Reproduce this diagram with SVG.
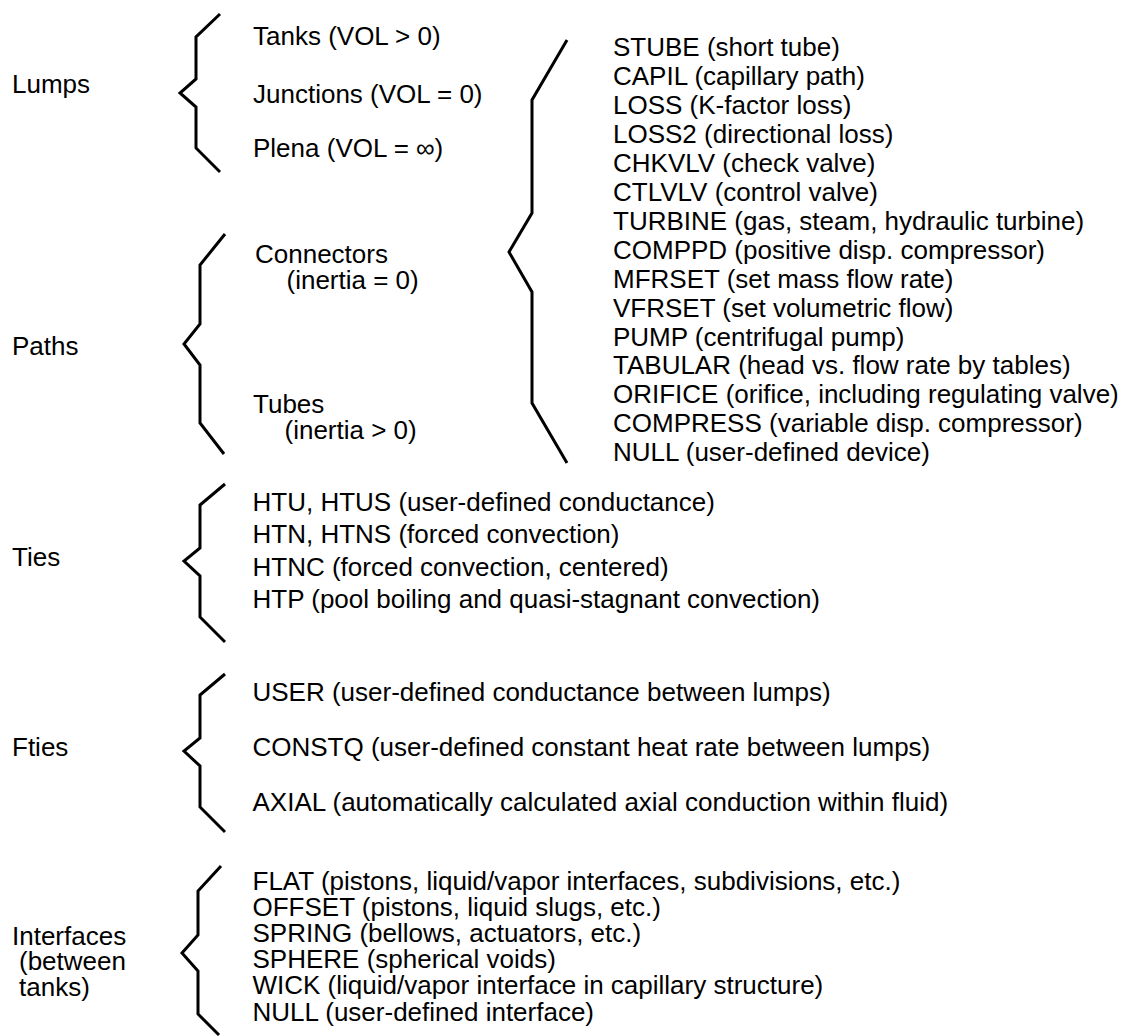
<svg xmlns="http://www.w3.org/2000/svg" width="1133" height="1036" viewBox="0 0 1133 1036">
<style>
text{font-family:"Liberation Sans",Arial,Helvetica,sans-serif;font-size:26px;fill:#000}
.brace{fill:none;stroke:#000;stroke-width:3;stroke-linejoin:miter;stroke-linecap:butt}
</style>
<rect width="1133" height="1036" fill="#fff"/>
<g id="connectors">
<polyline class="brace" points="220,14 196,37 196,79 180,93 196,107 196,148 220,172"/>
<polyline class="brace" points="225,234 200,265 200,324 184,344 200,365 200,423 224,454"/>
<polyline class="brace" points="567,40 532,100 532,213 509,252 532,292 532,403 567,463"/>
<polyline class="brace" points="225,484 200,505 200,548 184,561 200,576 200,617 225,642"/>
<polyline class="brace" points="225,674 200,695 200,738 184,751 200,766 200,807 225,832"/>
<polyline class="brace" points="221,866 198,891 198,935 182,953 198,971 198,1014 219,1035"/>
</g>
<g id="lumps"><text x="12" y="93">Lumps</text></g>
<g id="lump-types">
<text x="253" y="45">Tanks (VOL &gt; 0)</text>
<text x="253" y="102.5">Junctions (VOL = 0)</text>
<text x="253" y="157">Plena (VOL = ∞)</text>
</g>
<g id="paths"><text x="12" y="355">Paths</text></g>
<g id="connectors-node">
<text x="255" y="263">Connectors</text>
<text x="286.5" y="289">(inertia = 0)</text>
</g>
<g id="tubes">
<text x="253" y="413">Tubes</text>
<text x="284.5" y="439">(inertia &gt; 0)</text>
</g>
<g id="connector-types">
<text x="613" y="56">STUBE (short tube)</text>
<text x="613" y="85">CAPIL (capillary path)</text>
<text x="613" y="114">LOSS (K-factor loss)</text>
<text x="613" y="143">LOSS2 (directional loss)</text>
<text x="613" y="172">CHKVLV (check valve)</text>
<text x="613" y="201">CTLVLV (control valve)</text>
<text x="613" y="230">TURBINE (gas, steam, hydraulic turbine)</text>
<text x="613" y="259">COMPPD (positive disp. compressor)</text>
<text x="613" y="288">MFRSET (set mass flow rate)</text>
<text x="613" y="317">VFRSET (set volumetric flow)</text>
<text x="613" y="345.5">PUMP (centrifugal pump)</text>
<text x="613" y="374">TABULAR (head vs. flow rate by tables)</text>
<text x="613" y="403">ORIFICE (orifice, including regulating valve)</text>
<text x="613" y="432">COMPRESS (variable disp. compressor)</text>
<text x="613" y="461">NULL (user-defined device)</text>
</g>
<g id="ties"><text x="12" y="566">Ties</text></g>
<g id="tie-types">
<text x="252.5" y="511">HTU, HTUS (user-defined conductance)</text>
<text x="252.5" y="543">HTN, HTNS (forced convection)</text>
<text x="252.5" y="576">HTNC (forced convection, centered)</text>
<text x="252.5" y="608">HTP (pool boiling and quasi-stagnant convection)</text>
</g>
<g id="fties"><text x="12" y="756">Fties</text></g>
<g id="ftie-types">
<text x="252.5" y="701">USER (user-defined conductance between lumps)</text>
<text x="252.5" y="756">CONSTQ (user-defined constant heat rate between lumps)</text>
<text x="252.5" y="811">AXIAL (automatically calculated axial conduction within fluid)</text>
</g>
<g id="interfaces">
<text x="12" y="945">Interfaces</text>
<text x="19" y="970">(between</text>
<text x="19" y="996">tanks)</text>
</g>
<g id="interface-types">
<text x="252.5" y="889.5">FLAT (pistons, liquid/vapor interfaces, subdivisions, etc.)</text>
<text x="252.5" y="915.7">OFFSET (pistons, liquid slugs, etc.)</text>
<text x="252.5" y="941.9">SPRING (bellows, actuators, etc.)</text>
<text x="252.5" y="968.1">SPHERE (spherical voids)</text>
<text x="252.5" y="994.3">WICK (liquid/vapor interface in capillary structure)</text>
<text x="252.5" y="1020.5">NULL (user-defined interface)</text>
</g>
</svg>
